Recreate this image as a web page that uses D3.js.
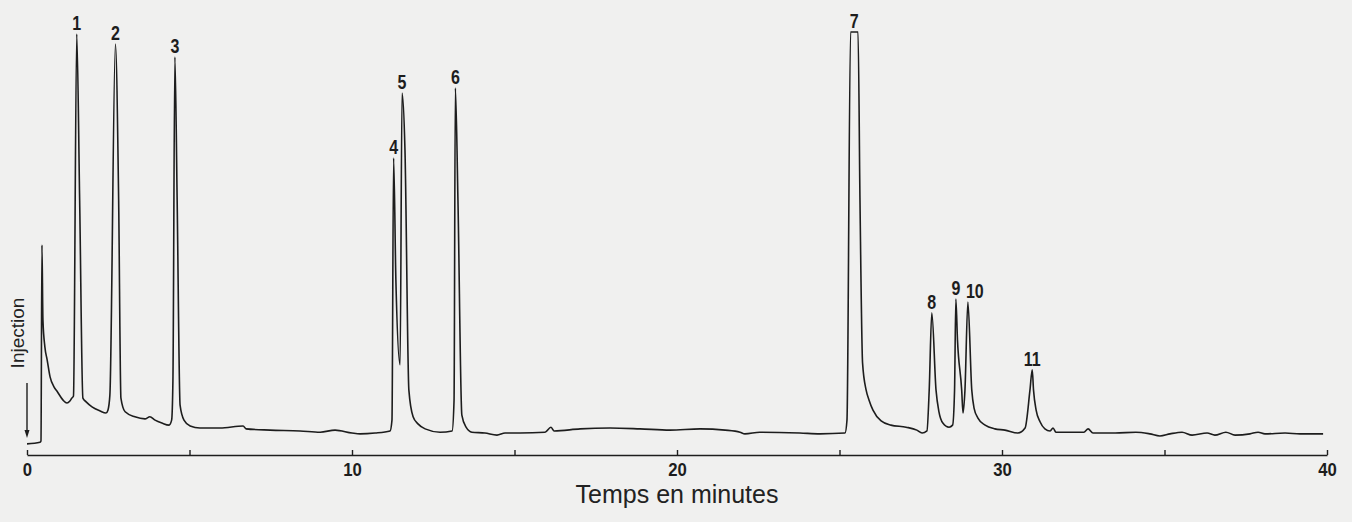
<!DOCTYPE html>
<html>
<head>
<meta charset="utf-8">
<script src="https://cdn.jsdelivr.net/npm/d3@7"></script>
<style>
  html, body { margin: 0; padding: 0; background: #f0f0ef; }
  svg { display: block; }
</style>
</head>
<body>
<svg id="chart" width="1352" height="522"></svg>
<script>
// ---- //
// Data //
// ---- //

// detector trace: time in minutes, response in % of full scale (pen saturates at 100)
const traceTime = [
  0.00, 0.40, 0.43, 0.46, 0.49, 0.55, 0.62, 0.71, 0.83, 0.92, 1.11, 1.23, 1.32, 1.38, 1.43,
  1.53, 1.62, 1.72, 1.82, 2.00, 2.25, 2.43, 2.49, 2.55, 2.72, 2.82, 2.89, 3.02, 3.32, 3.63,
  3.78, 3.94, 4.15, 4.37, 4.45, 4.49, 4.55, 4.62, 4.71, 4.83, 5.02, 5.32, 5.94, 6.65, 6.74,
  7.48, 8.40, 9.02, 9.48, 10.00, 10.25, 10.71, 11.17, 11.23, 11.28, 11.35, 11.48, 11.54, 11.63, 11.75,
  11.88, 12.03, 12.25, 12.71, 13.08, 13.14, 13.18, 13.26, 13.38, 13.51, 13.69, 14.09, 14.46, 14.71, 15.17,
  15.94, 16.12, 16.22, 17.02, 17.94, 18.86, 19.78, 20.71, 21.48, 21.94, 22.09, 22.55, 23.78, 24.40, 25.17,
  25.23, 25.34, 25.57, 25.63, 25.71, 25.82, 25.91, 26.03, 26.28, 26.58, 27.05, 27.38, 27.54, 27.69, 27.76,
  27.84, 27.97, 28.06, 28.18, 28.37, 28.48, 28.54, 28.58, 28.63, 28.76, 28.80, 28.86, 28.95, 29.07, 29.14,
  29.26, 29.48, 29.78, 30.09, 30.49, 30.71, 30.86, 30.93, 30.97, 31.05, 31.17, 31.32, 31.48, 31.57, 31.66,
  32.52, 32.65, 32.80, 33.48, 34.12, 34.55, 34.86, 35.17, 35.54, 35.85, 36.31, 36.55, 36.89, 37.17, 37.63,
  37.88, 38.09, 38.71, 39.17, 39.88
];
const traceSignal = [
  1.0, 1.4, 1.7, 48.8, 30.8, 24.3, 21.2, 17.1, 14.7, 13.7, 11.5, 10.8, 11.3, 12.0, 12.5,
  99.5, 59.6, 12.0, 11.1, 9.9, 8.9, 8.4, 9.1, 12.7, 97.1, 59.6, 12.0, 8.7, 7.5, 7.0,
  7.5, 6.7, 6.0, 5.5, 6.7, 16.3, 94.0, 59.6, 10.3, 6.7, 5.3, 4.8, 4.8, 5.3, 4.6,
  4.3, 4.1, 3.8, 4.3, 3.6, 3.4, 3.6, 4.1, 6.7, 69.7, 40.4, 20.0, 85.3, 71.6, 13.9,
  7.5, 5.8, 4.6, 3.8, 4.1, 11.5, 86.5, 59.6, 7.9, 5.0, 3.8, 3.6, 3.1, 3.6, 3.6,
  3.8, 5.0, 4.1, 4.6, 4.8, 4.6, 4.3, 4.6, 4.3, 3.8, 3.4, 3.8, 3.6, 3.4, 3.6,
  6.7, 100, 100, 59.6, 20.4, 13.9, 11.5, 9.1, 6.5, 5.5, 5.0, 4.3, 3.6, 4.1, 13.9,
  32.5, 13.9, 8.7, 6.0, 5.0, 5.5, 13.9, 35.8, 26.0, 13.9, 8.4, 13.9, 35.1, 13.9, 9.6,
  7.2, 5.5, 4.6, 4.3, 3.6, 4.8, 13.9, 18.8, 13.9, 9.1, 6.3, 4.6, 4.1, 4.8, 3.8,
  3.8, 4.6, 3.6, 3.6, 3.8, 3.4, 2.9, 3.4, 3.8, 3.1, 3.6, 3.1, 3.8, 3.1, 3.4,
  3.8, 3.4, 3.6, 3.4, 3.4
];

// numbered peaks and their retention times (min)
const peakLabels = ["1", "2", "3", "4", "5", "6", "7", "8", "9", "10", "11"];
const peakTime = [1.53, 2.72, 4.55, 11.28, 11.54, 13.18, 25.45, 27.84, 28.58, 28.95, 30.93];

// x axis
const tickValues = [0, 5, 10, 15, 20, 25, 30, 35, 40];
const tickLabels = ["0", "", "10", "", "20", "", "30", "", "40"];
const xTitle = "Temps en minutes";
const injectionLabel = "Injection";

// ------ //
// Scales //
// ------ //

const ink = "#1d1d1d";
const svg = d3.select("#chart");

const x = d3.scaleLinear().domain([0, 40]).range([27, 1327]);
const y = d3.scaleLinear().domain([0, 100]).range([448, 32]);
const axisY = 455;

const trace = traceTime.map((t, i) => ({ t, s: traceSignal[i] }));

// --------- //
// Rendering //
// --------- //

// axis with small upward ticks
const axis = d3.axisBottom(x)
  .tickValues(tickValues)
  .tickSizeInner(-5)
  .tickSizeOuter(0)
  .tickFormat((d, i) => tickLabels[i]);

const gx = svg.append("g")
  .attr("transform", `translate(0,${axisY})`)
  .call(axis);
gx.select(".domain").attr("stroke", ink).attr("stroke-width", 1.6);
gx.selectAll(".tick line").attr("stroke", ink).attr("stroke-width", 1.4);
// condensed digits, like the recorder's stencil lettering
gx.selectAll(".tick text")
  .attr("fill", ink)
  .attr("y", null)
  .attr("dy", null)
  .attr("transform", "translate(0,21) scale(0.88,1)")
  .style("font-family", "'Liberation Sans', Arial, sans-serif")
  .style("font-weight", "bold")
  .style("font-size", "19px");

svg.append("text")
  .attr("x", x(20))
  .attr("y", 503)
  .attr("text-anchor", "middle")
  .attr("fill", "#222")
  .style("font-family", "'Liberation Sans', Arial, sans-serif")
  .style("font-size", "25px")
  .text(xTitle);

// injection mark
svg.append("text")
  .attr("transform", `translate(24,${333}) rotate(-90)`)
  .attr("text-anchor", "middle")
  .attr("fill", "#222")
  .style("font-family", "'Liberation Sans', Arial, sans-serif")
  .style("font-size", "19px")
  .text(injectionLabel);

svg.append("line")
  .attr("x1", x(0)).attr("x2", x(0))
  .attr("y1", 383).attr("y2", 431)
  .attr("stroke", ink).attr("stroke-width", 1.4);
svg.append("path")
  .attr("d", d3.line()([[x(0) - 2.5, 430], [x(0) + 2.5, 430], [x(0), 438]]) + "Z")
  .attr("fill", ink);

// chromatogram trace
const line = d3.line()
  .x(d => x(d.t))
  .y(d => y(d.s))
  .curve(d3.curveMonotoneX);

svg.append("path")
  .datum(trace)
  .attr("d", line)
  .attr("fill", "none")
  .attr("stroke", ink)
  .attr("stroke-width", 1.6)
  .attr("stroke-linejoin", "round");

// peak numbers above each apex
const labelShift = { "10": 7 };
const peakTop = t => d3.max(trace.filter(d => Math.abs(d.t - t) <= 0.12), d => d.s);

svg.append("g")
  .selectAll("text")
  .data(peakLabels)
  .join("text")
  .attr("transform", (d, i) =>
    `translate(${x(peakTime[i]) + (labelShift[d] || 0)},${y(peakTop(peakTime[i])) - 4}) scale(0.8,1)`)
  .attr("text-anchor", "middle")
  .attr("fill", ink)
  .style("font-family", "'Liberation Sans', Arial, sans-serif")
  .style("font-weight", "bold")
  .style("font-size", "20px")
  .text(d => d);
</script>
</body>
</html>
